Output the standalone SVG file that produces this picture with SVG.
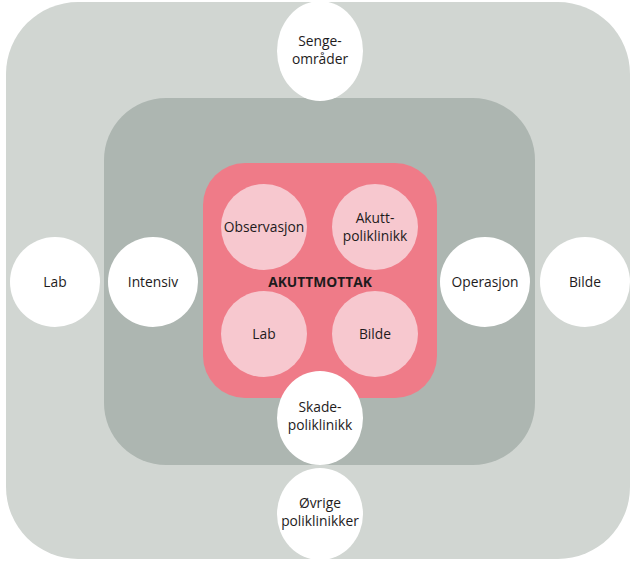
<svg xmlns="http://www.w3.org/2000/svg" width="636" height="561" viewBox="0 0 636 561">
<style>
.t{font-family:"Open Sans","Liberation Sans",sans-serif;font-size:13.8px;fill:#1e1b1c;text-anchor:middle}
.w{fill:#ffffff}
.p{fill:#f7c8cf}
</style>
<rect width="636" height="561" fill="#ffffff"/>
<g id="zone-outer"><rect x="6" y="2" width="624" height="557" rx="72" fill="#d1d6d2"/></g>
<g id="zone-middle"><rect x="104" y="98" width="431" height="367" rx="62" fill="#adb6b1"/></g>
<g id="akuttmottak">
<rect x="203" y="163" width="234" height="235" rx="42" fill="#ef7b88"/>
<text class="t" x="320" y="287" style="font-weight:bold">AKUTTMOTTAK</text>
</g>
<g id="observasjon"><circle class="p" cx="264" cy="227" r="43"/><text class="t" x="264" y="232">Observasjon</text></g>
<g id="akuttpoliklinikk"><circle class="p" cx="375" cy="227" r="43"/><text class="t" x="375" y="223">Akutt-</text><text class="t" x="375" y="241">poliklinikk</text></g>
<g id="lab-inner"><circle class="p" cx="264" cy="334" r="43"/><text class="t" x="264" y="339">Lab</text></g>
<g id="bilde-inner"><circle class="p" cx="375" cy="334" r="43"/><text class="t" x="375" y="339">Bilde</text></g>
<g id="sengeomrader"><ellipse class="w" cx="320" cy="51" rx="43" ry="50"/><text class="t" x="320" y="46">Senge-</text><text class="t" x="320" y="64">områder</text></g>
<g id="lab-outer"><circle class="w" cx="55" cy="282" r="45"/><text class="t" x="55" y="287">Lab</text></g>
<g id="intensiv"><circle class="w" cx="153" cy="282" r="45"/><text class="t" x="153" y="287">Intensiv</text></g>
<g id="operasjon"><circle class="w" cx="485" cy="282" r="45"/><text class="t" x="485" y="287">Operasjon</text></g>
<g id="bilde-outer"><circle class="w" cx="585" cy="282" r="45"/><text class="t" x="585" y="287">Bilde</text></g>
<g id="skadepoliklinikk"><ellipse class="w" cx="320" cy="418" rx="43" ry="47"/><text class="t" x="320" y="412">Skade-</text><text class="t" x="320" y="430">poliklinikk</text></g>
<g id="ovrige"><ellipse class="w" cx="320" cy="514" rx="43" ry="46"/><text class="t" x="320" y="508">Øvrige</text><text class="t" x="320" y="526">poliklinikker</text></g>
<g id="connectors"/>
</svg>
